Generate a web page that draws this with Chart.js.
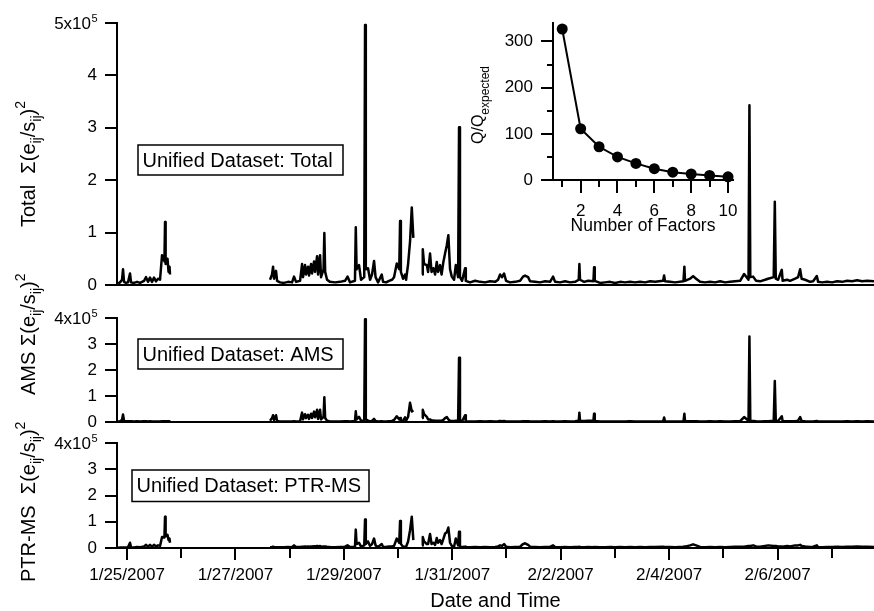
<!DOCTYPE html>
<html>
<head>
<meta charset="utf-8">
<script src="https://cdn.jsdelivr.net/npm/chart.js@4.4.0/dist/chart.umd.min.js"></script>
<style>
  html, body { margin: 0; padding: 0; background: #fff; }
  #wrap { position: relative; width: 874px; height: 611px; }
  #wrap canvas { position: absolute; left: 0; top: 0; }
</style>
</head>
<body>
<div id="wrap">
  <canvas id="cTotal" width="874" height="611"></canvas>
  <canvas id="cAms" width="874" height="611"></canvas>
  <canvas id="cPtr" width="874" height="611"></canvas>
  <canvas id="cInset" width="874" height="611"></canvas>
</div>
<script>
// time in days since 1/25/2007 00:00, values in units of 1e5
const times = [
  -0.166,-0.129,-0.092,-0.074,-0.055,-0.018,0.018,0.055,0.074,0.129,
  0.185,0.240,0.314,0.351,0.387,0.424,0.461,0.498,0.535,0.572,
  0.609,0.646,0.690,0.701,0.712,0.747,0.766,0.784,0.793,1.700,
  2.638,2.675,2.694,2.712,2.749,2.768,2.823,2.897,2.970,3.044,
  3.081,3.118,3.192,3.229,3.247,3.284,3.303,3.339,3.358,3.395,
  3.413,3.450,3.469,3.506,3.524,3.561,3.579,3.625,3.640,3.655,
  3.690,3.745,3.838,3.930,4.022,4.068,4.114,4.205,4.220,4.235,
  4.280,4.317,4.376,4.391,4.405,4.446,4.483,4.520,4.557,4.585,
  4.631,4.699,4.723,4.779,4.834,4.889,4.926,4.976,5.022,5.037,
  5.052,5.092,5.129,5.148,5.185,5.221,5.253,5.282,5.330,5.443,
  5.456,5.480,5.530,5.554,5.590,5.618,5.651,5.683,5.714,5.738,
  5.775,5.803,5.836,5.867,5.899,5.928,5.959,5.991,6.033,6.065,
  6.108,6.125,6.142,6.181,6.236,6.250,6.328,6.421,6.513,6.605,
  6.697,6.790,6.845,6.882,6.919,6.956,6.993,7.066,7.159,7.251,
  7.306,7.343,7.399,7.435,7.528,7.620,7.712,7.804,7.860,7.897,
  7.989,8.081,8.173,8.266,8.333,8.345,8.357,8.432,8.506,8.604,
  8.616,8.628,8.727,8.819,8.911,9.004,9.096,9.188,9.280,9.373,
  9.465,9.557,9.649,9.742,9.890,9.908,9.925,10.018,10.111,10.265,
  10.282,10.294,10.387,10.443,10.498,10.572,10.664,10.756,10.849,10.941,
  11.033,11.125,11.218,11.310,11.384,11.465,11.482,11.498,11.550,11.605,
  11.679,11.771,11.827,11.930,11.950,11.968,12.011,12.079,12.095,12.177,
  12.232,12.325,12.380,12.417,12.445,12.509,12.601,12.657,12.725,12.749,
  12.823,12.915,13.007,13.100,13.192,13.284,13.376,13.469,13.561,13.653,
  13.780
];

const totalQ = [
  .03,.05,.10,.30,.06,.04,.05,.22,.05,.04,
  .06,.04,.08,.15,.06,.14,.06,.14,.07,.12,
  .10,.57,.45,1.20,.40,.50,.25,.35,.20,null,
  .10,.20,.35,.12,.27,.08,.05,.04,.06,.05,
  .16,.06,.08,.40,.15,.38,.20,.35,.18,.40,
  .22,.45,.25,.55,.20,.57,.15,.30,.99,.25,
  .10,.06,.05,.06,.08,.16,.05,.08,1.10,.30,
  .38,.10,.15,4.96,.30,.32,.10,.20,.46,.15,
  .05,.20,.06,.05,.08,.10,.15,.41,.30,1.22,
  .25,.12,.20,.10,.40,.83,1.48,.90,null,.20,
  .68,.40,.38,.25,.60,.25,.32,.20,.44,.25,
  .38,.20,.44,.60,.76,.95,.30,.16,.10,.38,
  .15,3.01,.15,.08,.32,.08,.05,.08,.06,.05,
  .07,.06,.10,.20,.15,.22,.08,.05,.06,.08,
  .16,.18,.15,.07,.06,.05,.07,.06,.16,.06,
  .05,.07,.05,.06,.10,.40,.10,.06,.08,.07,
  .34,.08,.04,.05,.06,.04,.06,.05,.06,.05,
  .06,.05,.07,.06,.08,.18,.07,.06,.05,.07,
  .35,.08,.12,.17,.12,.06,.05,.06,.05,.07,
  .05,.06,.07,.08,.21,.10,3.43,.15,.16,.08,
  .07,.10,.12,.15,1.59,.12,.10,.29,.08,.10,
  .08,.12,.15,.30,.12,.10,.06,.07,.17,.06,
  .05,.06,.05,.07,.06,.08,.07,.09,.07,.08,
  .07
];

const amsQ = [
  .02,.03,.08,.29,.04,.03,.03,.03,.03,.02,
  .03,.02,.03,.03,.02,.03,.02,.02,.02,.02,
  .02,.03,.03,.03,.03,.03,.03,.03,.02,null,
  .05,.15,.26,.08,.26,.04,.02,.02,.02,.02,
  .03,.02,.03,.36,.10,.30,.15,.28,.12,.32,
  .15,.40,.18,.47,.12,.47,.10,.20,.95,.15,
  .05,.02,.02,.02,.03,.03,.02,.04,.41,.10,
  .20,.05,.05,3.95,.10,.05,.03,.04,.12,.04,
  .02,.03,.02,.02,.03,.04,.08,.22,.10,.15,
  .05,.04,.18,.05,.20,.74,.40,.45,null,.15,
  .47,.30,.20,.10,.10,.06,.06,.05,.05,.05,
  .05,.05,.08,.15,.19,.10,.05,.04,.04,.05,
  .05,2.47,.05,.03,.26,.03,.02,.02,.03,.02,
  .03,.02,.03,.04,.03,.04,.02,.02,.02,.02,
  .03,.03,.03,.02,.02,.02,.03,.02,.03,.02,
  .02,.03,.02,.03,.05,.36,.05,.04,.05,.05,
  .32,.04,.02,.02,.02,.02,.02,.02,.03,.02,
  .02,.02,.02,.02,.03,.17,.03,.02,.02,.02,
  .32,.03,.03,.03,.03,.02,.02,.03,.02,.03,
  .02,.02,.03,.03,.19,.05,3.29,.05,.04,.03,
  .02,.03,.03,.05,1.58,.05,.04,.22,.03,.03,
  .03,.03,.05,.19,.04,.03,.02,.02,.04,.02,
  .02,.02,.02,.02,.02,.03,.02,.03,.02,.03,
  .02
];

const ptrQ = [
  .01,.02,.02,.02,.02,.02,.03,.20,.03,.02,
  .04,.03,.06,.12,.05,.12,.05,.12,.06,.10,
  .08,.42,.40,1.19,.45,.50,.30,.36,.20,null,
  .03,.04,.05,.04,.03,.03,.03,.03,.04,.03,
  .10,.04,.04,.05,.05,.06,.05,.06,.05,.06,
  .06,.07,.06,.08,.06,.08,.05,.06,.05,.06,
  .05,.04,.03,.04,.05,.10,.04,.05,.70,.15,
  .20,.05,.10,1.09,.15,.25,.08,.15,.36,.10,
  .04,.15,.05,.04,.06,.06,.08,.36,.20,1.03,
  .15,.05,.05,.05,.25,.68,1.19,.30,null,.10,
  .42,.25,.15,.15,.53,.15,.20,.12,.38,.20,
  .30,.15,.35,.55,.60,.78,.20,.08,.05,.36,
  .10,.62,.05,.04,.05,.04,.03,.04,.03,.04,
  .03,.04,.06,.10,.08,.15,.05,.03,.04,.05,
  .15,.18,.12,.05,.04,.03,.04,.04,.10,.04,
  .03,.04,.03,.04,.04,.05,.04,.03,.04,.03,
  .04,.04,.03,.03,.04,.03,.04,.03,.04,.03,
  .04,.03,.04,.04,.05,.04,.04,.04,.03,.05,
  .06,.05,.10,.14,.10,.04,.03,.04,.03,.04,
  .03,.04,.05,.05,.05,.08,.08,.08,.10,.06,
  .05,.08,.10,.08,.08,.08,.06,.06,.05,.08,
  .06,.10,.10,.12,.08,.06,.04,.05,.10,.04,
  .03,.04,.04,.05,.04,.05,.05,.06,.05,.05,
  .04
];

// inset: Q/Qexpected vs number of factors
const factors = [1, 2, 3, 4, 5, 6, 7, 8, 9, 10];
const qRatio = [327, 111, 72, 50, 36, 24.5, 17, 13, 10, 7];

const FONT = '"Liberation Sans", Arial, Helvetica, sans-serif';
const X_MIN = -0.185, X_MAX = 13.78;

function dayLabel(d) {
  const dt = new Date(2007, 0, 25 + d);
  return (dt.getMonth() + 1) + '/' + dt.getDate() + '/' + dt.getFullYear();
}

// rotated text with sub/superscript runs: [text, size, baseline shift]
function drawRich(ctx, x, y, parts) {
  ctx.save();
  ctx.translate(x, y);
  ctx.rotate(-Math.PI / 2);
  ctx.fillStyle = '#000';
  ctx.textAlign = 'left';
  ctx.textBaseline = 'alphabetic';
  let cx = 0;
  parts.forEach(([txt, size, dy]) => {
    ctx.font = size + 'px ' + FONT;
    ctx.fillText(txt, cx, dy);
    cx += ctx.measureText(txt).width;
  });
  ctx.restore();
}

function sigmaTitle(prefix) {
  return [[prefix + '\u03A3(e', 20, 0], ['ij', 14, 6], ['/s', 20, 0], ['ij', 14, 6], [')', 20, 0], ['2', 14, -10]];
}

function makePanel(cfg) {
  const isBottom = !!cfg.bottomAxis;
  const decor = {
    id: 'decor',
    afterDraw(chart) {
      const ctx = chart.ctx;
      const ty = chart.scales.y.getPixelForValue(cfg.max);
      ctx.save();
      ctx.fillStyle = '#000';
      ctx.textAlign = 'right';
      ctx.textBaseline = 'middle';
      ctx.font = '17px ' + FONT;
      ctx.fillText(cfg.max + 'x10', 91, ty + 1);
      ctx.textAlign = 'left';
      ctx.textBaseline = 'alphabetic';
      ctx.font = '11px ' + FONT;
      ctx.fillText('5', 91.5, ty - 1);
      const [bx, by, bw, bh] = cfg.box;
      ctx.lineWidth = 1.5;
      ctx.strokeStyle = '#000';
      ctx.strokeRect(bx, by, bw, bh);
      ctx.font = '20px ' + FONT;
      ctx.textBaseline = 'middle';
      ctx.fillText(cfg.label, bx + 4.5, by + bh / 2 + 1);
      ctx.restore();
      drawRich(ctx, 35, cfg.titleY, sigmaTitle(cfg.titlePrefix));
    }
  };

  return new Chart(document.getElementById(cfg.id), {
    type: 'line',
    data: {
      datasets: [{
        data: times.map((t, i) => ({ x: t, y: cfg.values[i] })),
        borderColor: '#000',
        borderWidth: 2.5,
        borderJoinStyle: 'round',
        pointRadius: 0,
        tension: 0,
        spanGaps: false,
        xAxisID: 'x',
        yAxisID: 'y'
      }]
    },
    options: {
      responsive: false,
      animation: false,
      events: [],
      layout: { padding: { left: 0, right: 0, top: cfg.top, bottom: 611 - cfg.bottomY - (isBottom ? 63 : 0) } },
      plugins: { legend: { display: false }, tooltip: { enabled: false } },
      scales: {
        x: {
          type: 'linear', min: X_MIN, max: X_MAX,
          afterFit: s => { s.height = isBottom ? 63 : 0; },
          border: { display: true, color: '#000', width: 2 },
          grid: {
            display: isBottom, drawOnChartArea: false, color: '#000', lineWidth: 2, tickLength: 12,
            tickBorderDash: c => (c.tick && c.tick.value % 2) ? [9, 20] : []
          },
          ticks: {
            display: isBottom, stepSize: 1, includeBounds: false, autoSkip: false, maxRotation: 0,
            padding: 5, color: '#000', font: { family: FONT, size: 17 },
            callback: v => v % 2 === 0 ? dayLabel(v) : ''
          },
          title: {
            display: isBottom, text: 'Date and Time', color: '#000',
            font: { family: FONT, size: 20, lineHeight: 1 }, padding: 0
          }
        },
        y: {
          type: 'linear', min: 0, max: cfg.max,
          afterFit: s => { s.width = 117; },
          border: { display: true, color: '#000', width: 2 },
          grid: { drawOnChartArea: false, color: '#000', lineWidth: 2, tickLength: 12 },
          ticks: {
            stepSize: 1, includeBounds: false, padding: 8, color: '#000',
            font: { family: FONT, size: 17 },
            callback: v => v === cfg.max ? '' : String(v)
          }
        }
      }
    },
    plugins: [decor]
  });
}

makePanel({ id: 'cTotal', values: totalQ, max: 5, top: 23, bottomY: 285,
  box: [138, 145, 205, 30], label: 'Unified Dataset: Total', titlePrefix: 'Total  ', titleY: 227 });
makePanel({ id: 'cAms', values: amsQ, max: 4, top: 318, bottomY: 422,
  box: [138, 339, 205, 30], label: 'Unified Dataset: AMS', titlePrefix: 'AMS ', titleY: 395 });
makePanel({ id: 'cPtr', values: ptrQ, max: 4, top: 443, bottomY: 548, bottomAxis: true,
  box: [132, 470, 237, 31.5], label: 'Unified Dataset: PTR-MS', titlePrefix: 'PTR-MS  ', titleY: 582 });

// inset
new Chart(document.getElementById('cInset'), {
  type: 'line',
  data: {
    datasets: [{
      data: factors.map((f, i) => ({ x: f, y: qRatio[i] })),
      borderColor: '#000',
      borderWidth: 2,
      pointRadius: 5.5,
      pointBackgroundColor: '#000',
      pointBorderColor: '#000',
      pointBorderWidth: 0,
      tension: 0,
      clip: false
    }]
  },
  options: {
    responsive: false,
    animation: false,
    events: [],
    layout: { padding: { left: 473, right: 141, top: 23, bottom: 376 } },
    plugins: { legend: { display: false }, tooltip: { enabled: false } },
    scales: {
      x: {
        type: 'linear', min: 0.5, max: 10.27,
        afterFit: s => { s.height = 55; },
        border: { display: true, color: '#000', width: 2 },
        grid: {
          drawOnChartArea: false, color: '#000', lineWidth: 2, tickLength: 13,
          tickBorderDash: c => (c.tick && c.tick.value % 2) ? [6, 20] : []
        },
        ticks: {
          stepSize: 1, includeBounds: false, autoSkip: false, maxRotation: 0, padding: 8,
          color: '#000', font: { family: FONT, size: 17 },
          callback: v => v % 2 === 0 ? String(v) : ''
        },
        title: {
          display: true, text: 'Number of Factors', color: '#000',
          font: { family: FONT, size: 17.5, lineHeight: 1 }, padding: 0
        }
      },
      y: {
        type: 'linear', min: 0, max: 340,
        afterFit: s => { s.width = 80; },
        border: { display: true, color: '#000', width: 2 },
        grid: {
          drawOnChartArea: false, color: '#000', lineWidth: 2, tickLength: 12,
          tickBorderDash: c => (c.tick && c.tick.value % 100) ? [6, 6] : [],
          tickBorderDashOffset: c => (c.tick && c.tick.value % 100) ? 6 : 0
        },
        ticks: {
          stepSize: 50, includeBounds: false, padding: 8, color: '#000',
          font: { family: FONT, size: 17 },
          callback: v => v % 100 === 0 ? String(v) : ''
        }
      }
    }
  },
  plugins: [{
    id: 'insetTitle',
    afterDraw(chart) {
      drawRich(chart.ctx, 483, 144, [['Q/Q', 16, 0], ['expected', 12, 6]]);
    }
  }]
});
</script>
</body>
</html>
